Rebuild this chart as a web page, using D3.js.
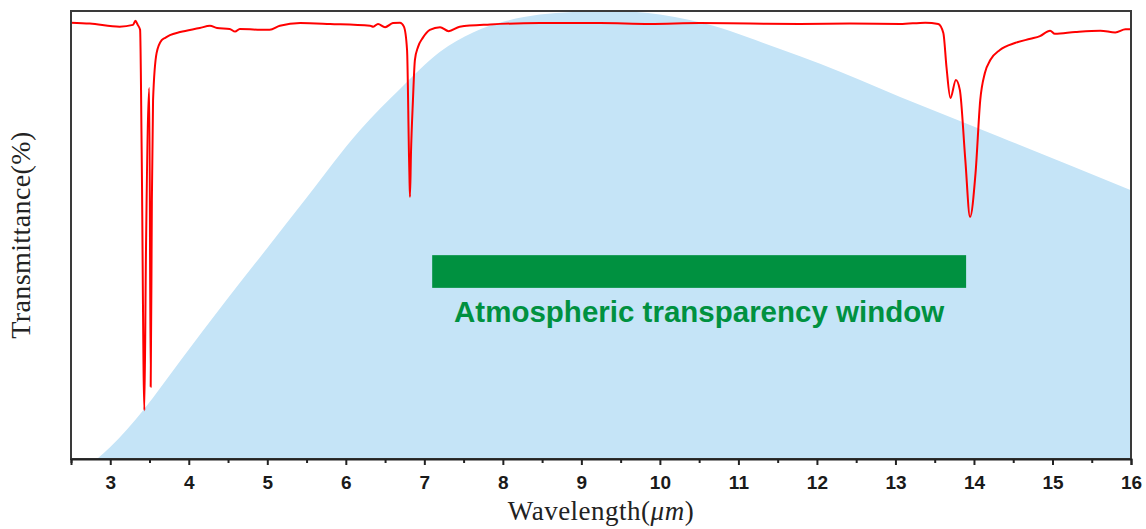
<!DOCTYPE html>
<html>
<head>
<meta charset="utf-8">
<script src="https://cdn.jsdelivr.net/npm/d3@7"></script>
<style>
  body { margin: 0; background: #fff; }
  svg { display: block; }
</style>
</head>
<body>
<div id="chart"></div>
<script>
// red transmittance spectrum (wavelength in um, transmittance in %)
const specX = [2.5, 2.74, 3.12, 3.29, 3.32, 3.35, 3.38, 3.40, 3.434, 3.455, 3.497, 3.515, 3.53, 3.545, 3.59, 3.655, 3.70, 3.76, 3.89,
  4.14, 4.27, 4.36, 4.52, 4.59, 4.65, 4.91, 5.03, 5.16, 5.42, 5.80, 6.31, 6.35, 6.41, 6.50, 6.60, 6.69, 6.74, 6.78, 6.805, 6.81,
  6.817, 6.83, 6.855, 6.88, 6.92, 6.98, 7.07, 7.20, 7.31, 7.45, 7.84, 8.47, 9.24, 9.87, 10.51, 11.15, 11.78, 12.42, 13.06, 13.38,
  13.545, 13.61, 13.65, 13.70, 13.77, 13.82, 13.89, 13.95, 14.02, 14.08, 14.14, 14.21, 14.33, 14.53, 14.72, 14.84, 14.97, 15.03,
  15.29, 15.61, 15.80, 15.93, 16.0];
const specY = [97.4, 97.2, 96.5, 96.9, 97.8, 96.9, 95.8, 69, 10.9, 46.7, 82.8, 16.1, 57.8, 80.1, 90.6, 93.5, 94, 94.6, 95.3,
  96.2, 96.7, 96.2, 96, 95.4, 96, 95.8, 95.8, 96.7, 97.3, 97.1, 96.7, 96.5, 97.1, 96.4, 97.3, 97.4, 96.5, 91.3, 67.4, 63.4,
  58.5, 68.3, 80.1, 89.1, 92, 94, 95.8, 96.4, 95.5, 96.5, 97, 97.3, 97.3, 97.1, 97.3, 97.2, 97.1, 97.2, 97.1, 97.4,
  97.1, 95.1, 87.5, 80.6, 84.6, 82.4, 66.7, 54, 63.8, 80.1, 86.2, 89.1, 91.3, 92.9, 93.8, 94.4, 95.6, 94.9,
  95.3, 95.6, 95.2, 95.9, 95.9];

// blue radiation envelope
const bodyX = [2.83, 3.0, 3.42, 3.9, 4.48, 5.0, 5.5, 6.18, 6.69, 7.2, 7.62, 8.05, 8.47, 8.89, 9.3, 9.7, 10.0, 10.38, 10.68, 11.11,
  11.53, 12.04, 13.06, 14.33, 16.0];
const bodyY = [0, 2.7, 10.9, 22.1, 35.5, 47.1, 58.3, 73.4, 82.6, 90.9, 95.2, 97.8, 99.2, 99.8, 100, 99.8, 99.2, 98.0, 96.7, 94.2,
  91.5, 88.2, 80.8, 71.9, 60];

// atmospheric window band
const windowRange = [7.1, 13.9];
const windowLevel = [38.2, 45.5];
const windowLabel = 'Atmospheric transparency window';

const majorTicks = [3, 4, 5, 6, 7, 8, 9, 10, 11, 12, 13, 14, 15, 16];
const minorTicks = [2.5, 3.5, 4.5, 5.5, 6.5, 7.5, 8.5, 9.5, 10.5, 11.5, 12.5, 13.5, 14.5, 15.5];

const W = 1146, H = 529;
const margin = { top: 11, right: 15, bottom: 70, left: 71 },
      width = W - margin.left - margin.right,
      height = H - margin.top - margin.bottom;

const svg = d3.select('#chart').append('svg')
    .attr('width', W)
    .attr('height', H);

const g = svg.append('g')
    .attr('transform', `translate(${margin.left},${margin.top})`);

const x = d3.scaleLinear().domain([2.5, 16]).range([0, width]);
const y = d3.scaleLinear().domain([0, 100]).range([height, 0]);

const spectrum = specX.map((d, i) => ({ x: d, y: specY[i] }));
const body = bodyX.map((d, i) => ({ x: d, y: bodyY[i] }));

// blue area
const area = d3.area()
    .x(d => x(d.x))
    .y0(height)
    .y1(d => y(d.y))
    .curve(d3.curveMonotoneX);

g.append('path')
    .datum(body)
    .attr('d', area)
    .style('fill', '#c5e4f7');

// green band + label
g.append('rect')
    .attr('x', x(windowRange[0]))
    .attr('width', x(windowRange[1]) - x(windowRange[0]))
    .attr('y', y(windowLevel[1]))
    .attr('height', y(windowLevel[0]) - y(windowLevel[1]))
    .style('fill', '#009140');

g.append('text')
    .attr('x', x((windowRange[0] + windowRange[1]) / 2))
    .attr('y', y(windowLevel[0]) + 34)
    .attr('text-anchor', 'middle')
    .style('font-family', '"Liberation Sans", Arial, sans-serif')
    .style('font-weight', 'bold')
    .style('font-size', '29.5px')
    .style('fill', '#009140')
    .text(windowLabel);

// red spectrum
const line = d3.line()
    .x(d => x(d.x))
    .y(d => y(d.y))
    .curve(d3.curveMonotoneX);

g.append('path')
    .datum(spectrum)
    .attr('d', line)
    .style('fill', 'none')
    .style('stroke', '#ff0000')
    .style('stroke-width', 2)
    .style('stroke-linejoin', 'round');

// frame
g.append('rect')
    .attr('width', width)
    .attr('height', height)
    .style('fill', 'none')
    .style('stroke', '#3a3a3a')
    .style('stroke-width', 2);

// x axis
const xAxis = g.append('g')
    .attr('class', 'x-axis')
    .attr('transform', `translate(0,${height})`)
    .call(d3.axisBottom(x).tickValues(majorTicks).tickSize(6).tickPadding(11).tickFormat(d3.format('d')));

xAxis.select('.domain').attr('stroke', '#222').attr('stroke-width', 2);
xAxis.selectAll('.tick line').attr('stroke', '#222').attr('stroke-width', 2);
xAxis.selectAll('text')
    .style('font-family', '"Liberation Sans", Arial, sans-serif')
    .style('font-weight', 'bold')
    .style('font-size', '19px')
    .style('fill', '#1a1a1a');

g.append('g')
    .attr('transform', `translate(0,${height})`)
    .call(d3.axisBottom(x).tickValues(minorTicks).tickSize(4).tickFormat(''))
    .call(s => s.select('.domain').remove())
    .call(s => s.selectAll('.tick line').attr('stroke', '#222').attr('stroke-width', 2));

// axis titles
svg.append('text')
    .attr('x', margin.left + x(9.25))
    .attr('y', 520)
    .attr('text-anchor', 'middle')
    .style('font-family', '"Liberation Serif", "DejaVu Serif", serif')
    .style('font-size', '27px')
    .style('letter-spacing', '0.5px')
    .style('fill', '#222')
    .html('Wavelength(<tspan font-style="italic">μm</tspan>)');

svg.append('text')
    .attr('transform', `translate(30,${margin.top + height / 2}) rotate(-90)`)
    .attr('text-anchor', 'middle')
    .style('font-family', '"Liberation Serif", "DejaVu Serif", serif')
    .style('font-size', '28px')
    .style('letter-spacing', '0.4px')
    .style('fill', '#222')
    .text('Transmittance(%)');
</script>
</body>
</html>
